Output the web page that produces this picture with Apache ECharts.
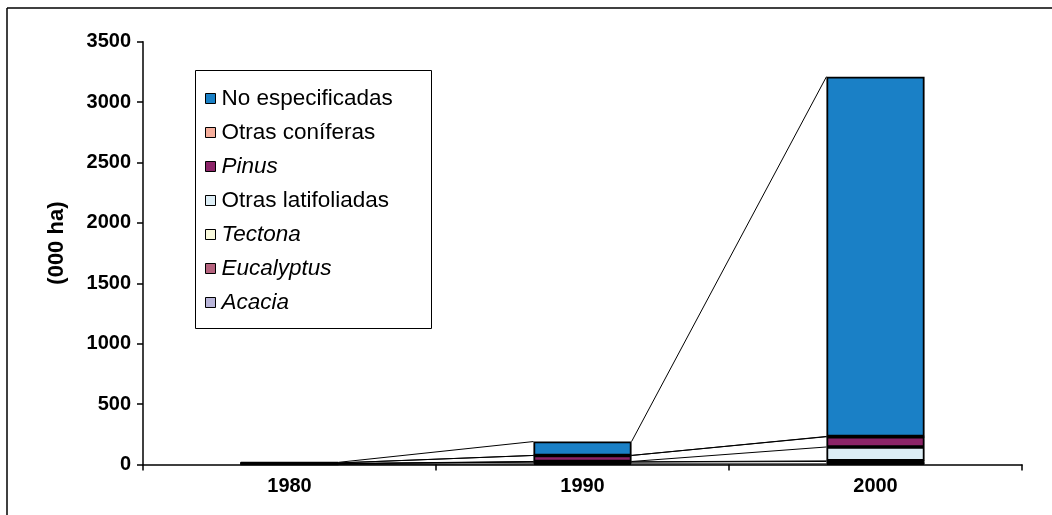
<!DOCTYPE html>
<html>
<head>
<meta charset="utf-8">
<style>
  html, body { margin: 0; padding: 0; background: #fff; }
  #chart { width: 1052px; height: 515px; }
</style>
<script src="https://cdn.jsdelivr.net/npm/echarts@6/dist/echarts.min.js"></script>
</head>
<body>
<div id="chart"></div>
<script>
// Plantation area by genus (000 ha)
const categories = ['1980', '1990', '2000'];
const acacia = [1, 5, 5];
const eucalyptus = [5, 15, 20];
const tectona = [1, 2, 5];
const otrasLatifoliadas = [1, 3, 115];
const pinus = [5, 50, 85];
const otrasConiferas = [0, 0, 2];
const noEspecificadas = [5, 115, 2978];
const yTicks = [0, 500, 1000, 1500, 2000, 2500, 3000, 3500];

// stacking order, bottom to top
const stackSeries = [
  { name: 'Acacia', data: acacia, color: '#b9b5d9', italic: true },
  { name: 'Eucalyptus', data: eucalyptus, color: '#b5637e', italic: true },
  { name: 'Tectona', data: tectona, color: '#fafadc', italic: true },
  { name: 'Otras latifoliadas', data: otrasLatifoliadas, color: '#ddeef6', italic: false },
  { name: 'Pinus', data: pinus, color: '#8c2468', italic: true },
  { name: 'Otras coníferas', data: otrasConiferas, color: '#f5ae9c', italic: false },
  { name: 'No especificadas', data: noEspecificadas, color: '#1a80c6', italic: false }
];

const BAR_FRAC = 0.335;
const FONT = 'Arial, "Liberation Sans", Helvetica, sans-serif';

// cumulative tops of each stacked segment, used for the connecting lines
const cumTops = [];
let running = categories.map(() => 0);
stackSeries.forEach(s => {
  running = running.map((v, i) => v + s.data[i]);
  cumTops.push(running.slice());
});
const connectorData = [];
cumTops.forEach(level => {
  for (let i = 0; i < categories.length - 1; i++) {
    connectorData.push([i, level[i], level[i + 1]]);
  }
});

const series = stackSeries.map(s => ({
  name: s.name,
  type: 'bar',
  stack: 'total',
  barWidth: (BAR_FRAC * 100) + '%',
  data: s.data,
  itemStyle: { color: s.color, borderColor: '#000', borderWidth: 1.8 },
  emphasis: { disabled: true }
}));

series.push({
  type: 'custom',
  name: 'connectors',
  data: connectorData,
  silent: true,
  z: 1,
  renderItem: function (params, api) {
    const i = api.value(0);
    const p1 = api.coord([i, api.value(1)]);
    const p2 = api.coord([i + 1, api.value(2)]);
    const half = api.size([1, 0])[0] * BAR_FRAC / 2;
    return {
      type: 'line',
      shape: { x1: p1[0] + half, y1: p1[1], x2: p2[0] - half, y2: p2[1] },
      style: { stroke: '#000', lineWidth: 1 }
    };
  }
});

const legendOrder = stackSeries.slice().reverse();
const italicNames = stackSeries.filter(s => s.italic).map(s => s.name);

const chart = echarts.init(document.getElementById('chart'), null, { renderer: 'canvas' });
chart.setOption({
  animation: false,
  backgroundColor: '#fff',
  grid: { left: 143, right: 30, top: 41.7, bottom: 50.5 },
  legend: {
    orient: 'vertical',
    left: 200,
    top: 82,
    z: 20,
    itemWidth: 10,
    itemHeight: 10,
    itemGap: 11,
    icon: 'rect',
    selectedMode: false,
    data: legendOrder.map(s => s.name),
    itemStyle: { borderColor: '#000', borderWidth: 1 },
    formatter: function (name) {
      return italicNames.indexOf(name) >= 0 ? '{i|' + name + '}' : '{n|' + name + '}';
    },
    textStyle: {
      fontFamily: FONT,
      fontSize: 22,
      color: '#000',
      rich: {
        n: { fontFamily: FONT, fontSize: 22.5, color: '#000', padding: [0, 0, 0, 1] },
        i: { fontFamily: FONT, fontSize: 22.5, color: '#000', fontStyle: 'italic', padding: [0, 0, 0, 1] }
      }
    }
  },
  xAxis: {
    type: 'category',
    data: categories,
    axisLine: { lineStyle: { color: '#000', width: 1.5 } },
    axisTick: { show: true, alignWithLabel: false, length: 6, lineStyle: { color: '#000', width: 1.5 } },
    axisLabel: { fontFamily: FONT, fontWeight: 'bold', fontSize: 20, color: '#000', margin: 12 }
  },
  yAxis: {
    type: 'value',
    min: yTicks[0],
    max: yTicks[yTicks.length - 1],
    interval: yTicks[1] - yTicks[0],
    name: '(000 ha)',
    nameLocation: 'middle',
    nameRotate: 90,
    nameGap: 75,
    nameTextStyle: { fontFamily: FONT, fontWeight: 'bold', fontSize: 22, color: '#000', padding: [0, 0, 0, 20] },
    axisLine: { show: true, lineStyle: { color: '#000', width: 1.5 } },
    axisTick: { show: true, length: 6, lineStyle: { color: '#000', width: 1.5 } },
    splitLine: { show: false },
    axisLabel: {
      fontFamily: FONT, fontWeight: 'bold', fontSize: 20, color: '#000', margin: 12,
      formatter: function (v) { return String(v); }
    }
  },
  graphic: [
    { type: 'rect', shape: { x: 195.5, y: 70.5, width: 236, height: 258 },
      style: { fill: '#fff', stroke: '#000', lineWidth: 1 }, z: 0, silent: true },
    { type: 'line', shape: { x1: 7, y1: 8, x2: 1052, y2: 8 },
      style: { stroke: '#000', lineWidth: 1.5 }, silent: true },
    { type: 'line', shape: { x1: 7, y1: 8, x2: 7, y2: 515 },
      style: { stroke: '#000', lineWidth: 1.5 }, silent: true }
  ],
  series: series
});
</script>
</body>
</html>
